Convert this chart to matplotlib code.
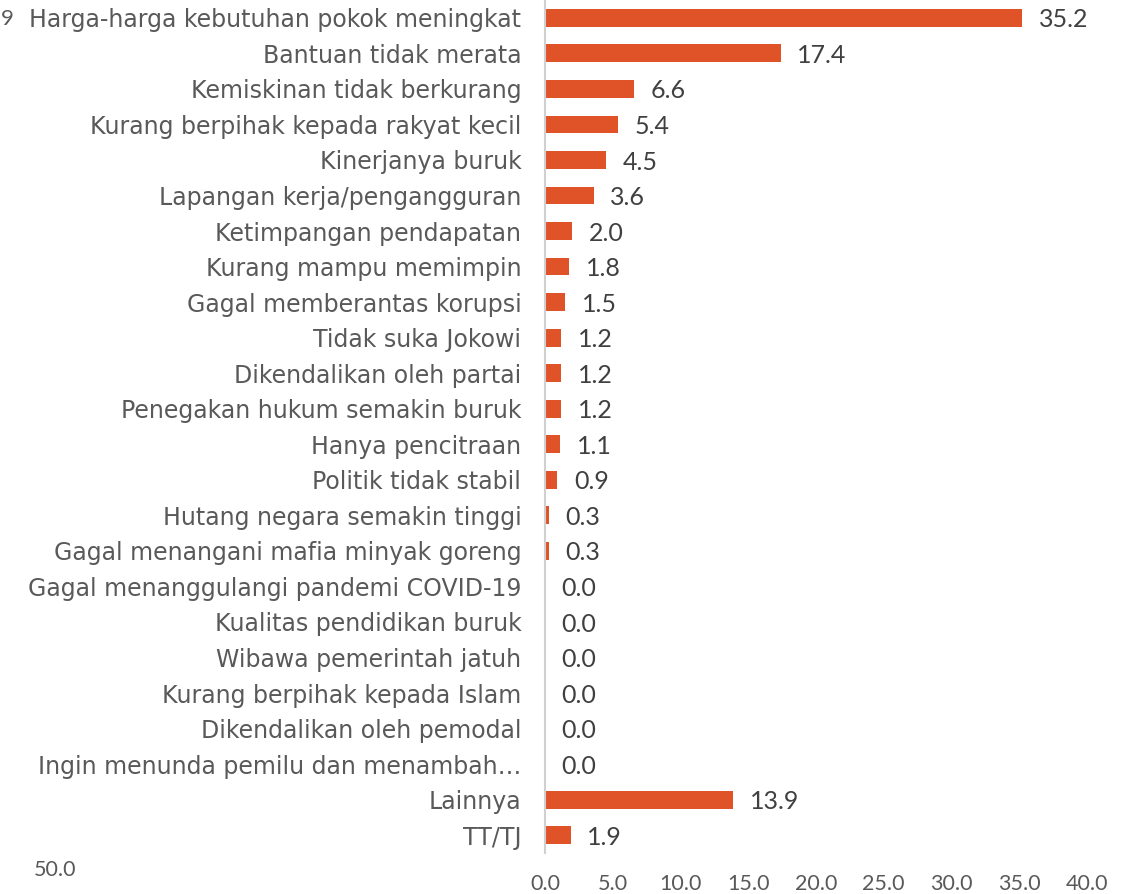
import matplotlib
matplotlib.use("Agg")
import matplotlib.pyplot as plt

categories = [
    "Harga-harga kebutuhan pokok meningkat",
    "Bantuan tidak merata",
    "Kemiskinan tidak berkurang",
    "Kurang berpihak kepada rakyat kecil",
    "Kinerjanya buruk",
    "Lapangan kerja/pengangguran",
    "Ketimpangan pendapatan",
    "Kurang mampu memimpin",
    "Gagal memberantas korupsi",
    "Tidak suka Jokowi",
    "Dikendalikan oleh partai",
    "Penegakan hukum semakin buruk",
    "Hanya pencitraan",
    "Politik tidak stabil",
    "Hutang negara semakin tinggi",
    "Gagal menangani mafia minyak goreng",
    "Gagal menanggulangi pandemi COVID-19",
    "Kualitas pendidikan buruk",
    "Wibawa pemerintah jatuh",
    "Kurang berpihak kepada Islam",
    "Dikendalikan oleh pemodal",
    "Ingin menunda pemilu dan menambah…",
    "Lainnya",
    "TT/TJ",
]
values = [35.2, 17.4, 6.6, 5.4, 4.5, 3.6, 2.0, 1.8, 1.5, 1.2, 1.2, 1.2, 1.1, 0.9,
          0.3, 0.3, 0.0, 0.0, 0.0, 0.0, 0.0, 0.0, 13.9, 1.9]
xticks = [0, 5, 10, 15, 20, 25, 30, 35, 40]

plt.rcParams['font.family'] = ['Lato', 'DejaVu Sans']

fig = plt.figure(figsize=(11.33, 8.94), dpi=100)
ax = fig.add_axes([0.481, 0.0459, 0.4784, 0.9541])

ypos = list(range(len(categories)))
ax.barh(ypos, values, height=0.5, color="#E05328")
ax.set_ylim(len(categories) - 0.5, -0.5)
ax.set_xlim(0, 40)

ax.set_yticks(ypos)
ax.set_yticklabels(categories, fontsize=17, color="#595959",
                   family=['DejaVu Sans'])
ax.tick_params(axis='y', length=0, pad=17)
ax.set_xticks(xticks)
ax.set_xticklabels([f"{t:.1f}" for t in xticks], fontsize=15.5, color="#595959")
ax.tick_params(axis='x', length=0, pad=15)

for s in ["top", "right", "bottom"]:
    ax.spines[s].set_visible(False)
ax.spines["left"].set_color("#D0D0D0")
ax.spines["left"].set_linewidth(1.5)

for y, v in zip(ypos, values):
    ax.annotate(f"{v:.1f}", xy=(v, y), xytext=(12, -1.5), textcoords="offset points",
                va="center", ha="left", fontsize=18, color="#404040")

fig.text(0.03, 0.027, "50.0", fontsize=15.5, color="#595959", ha="left", va="center")
fig.text(0.001, 0.979, "9", fontsize=16, color="#595959", ha="left", va="center")

fig.savefig("out.png", dpi=100)
